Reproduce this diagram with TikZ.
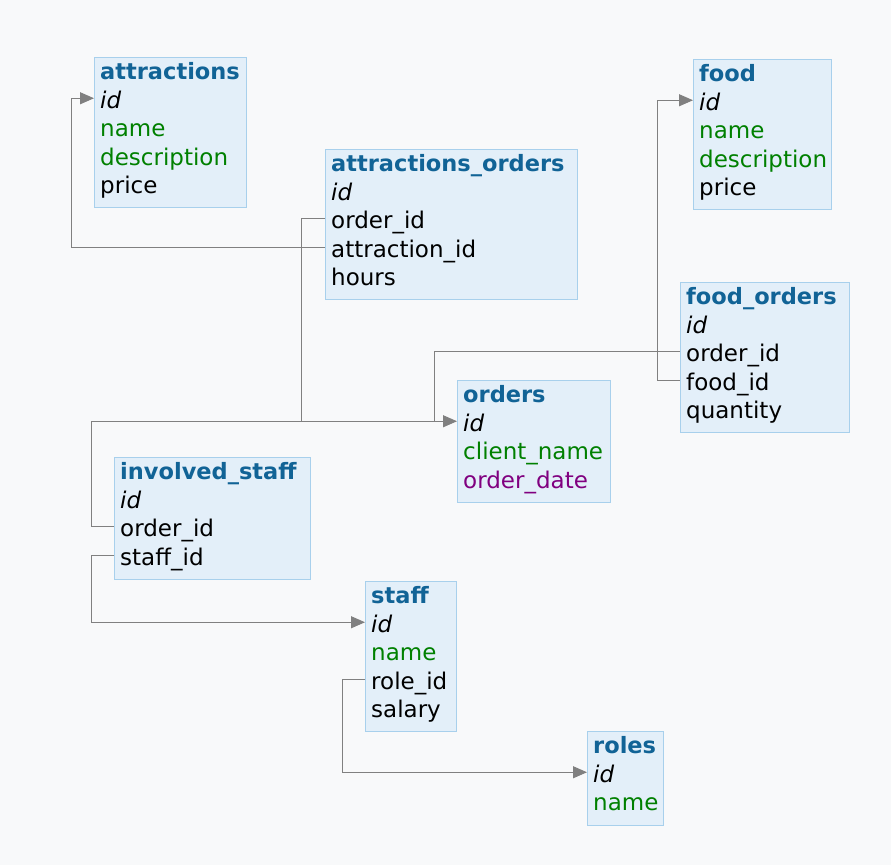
\documentclass[tikz,border=0pt]{standalone}
\usepackage{fontspec}
\setmainfont{DejaVu Sans}
\usetikzlibrary{arrows.meta}
\definecolor{bgc}{RGB}{248,249,250}
\definecolor{boxfill}{RGB}{227,239,249}
\definecolor{boxline}{RGB}{168,208,236}
\definecolor{titlec}{RGB}{17,99,150}
\definecolor{greenc}{RGB}{0,128,0}
\definecolor{purplec}{RGB}{128,0,128}
\definecolor{linec}{RGB}{128,128,128}
\newcommand\settbl[2]{\def\tblx{#1}\def\tbly{#2}}
\newcommand\fieldrow[4]{\node[#3] (#1) at ({\tblx+6},{\tbly+22.8+28.45*#2}) {#4};}
\tikzset{
  tbox/.style={draw=boxline, fill=boxfill, line width=0.8pt, rectangle, anchor=north west, inner sep=0pt},
  txt/.style={anchor=base west, inner sep=0pt, text height=22.5pt, text depth=2.5pt, font=\fontsize{23}{28}\selectfont},
  ttl/.style={txt, text=titlec, font=\fontsize{22.5}{28}\selectfont\bfseries},
  pk/.style={txt, font=\fontsize{23}{28}\selectfont\itshape},
  plain/.style={txt, text=black},
  grn/.style={txt, text=greenc},
  prp/.style={txt, text=purplec},
  fk/.style={draw=linec, line width=1pt},
  fkarrow/.style={fk, -{Triangle[length=14pt,width=12pt]}, linec}
}
\begin{document}
\begin{tikzpicture}[x=1pt,y=-1pt]
\fill[bgc] (0,0) rectangle (891,865);
\useasboundingbox (0,0) rectangle (891,865);
% attractions
\settbl{94}{57}
\node[tbox, minimum width=152pt, minimum height=150.4pt] (attr) at (\tblx,\tbly) {};
\fieldrow{attr-0}{0}{ttl}{attractions}
\fieldrow{attr-1}{1}{pk}{id}
\fieldrow{attr-2}{2}{grn}{name}
\fieldrow{attr-3}{3}{grn}{description}
\fieldrow{attr-4}{4}{plain}{price}
% attractions_orders
\settbl{325}{149}
\node[tbox, minimum width=252pt, minimum height=150.4pt] (ao) at (\tblx,\tbly) {};
\fieldrow{ao-0}{0}{ttl}{attractions\_orders}
\fieldrow{ao-1}{1}{pk}{id}
\fieldrow{ao-2}{2}{plain}{order\_id}
\fieldrow{ao-3}{3}{plain}{attraction\_id}
\fieldrow{ao-4}{4}{plain}{hours}
% food
\settbl{693}{59}
\node[tbox, minimum width=138pt, minimum height=150.4pt] (food) at (\tblx,\tbly) {};
\fieldrow{food-0}{0}{ttl}{food}
\fieldrow{food-1}{1}{pk}{id}
\fieldrow{food-2}{2}{grn}{name}
\fieldrow{food-3}{3}{grn}{description}
\fieldrow{food-4}{4}{plain}{price}
% food_orders
\settbl{680}{282}
\node[tbox, minimum width=169pt, minimum height=150.4pt] (fo) at (\tblx,\tbly) {};
\fieldrow{fo-0}{0}{ttl}{food\_orders}
\fieldrow{fo-1}{1}{pk}{id}
\fieldrow{fo-2}{2}{plain}{order\_id}
\fieldrow{fo-3}{3}{plain}{food\_id}
\fieldrow{fo-4}{4}{plain}{quantity}
% orders
\settbl{457}{380}
\node[tbox, minimum width=153pt, minimum height=121.95pt] (ord) at (\tblx,\tbly) {};
\fieldrow{ord-0}{0}{ttl}{orders}
\fieldrow{ord-1}{1}{pk}{id}
\fieldrow{ord-2}{2}{grn}{client\_name}
\fieldrow{ord-3}{3}{prp}{order\_date}
% involved_staff
\settbl{114}{457}
\node[tbox, minimum width=196pt, minimum height=121.95pt] (is) at (\tblx,\tbly) {};
\fieldrow{is-0}{0}{ttl}{involved\_staff}
\fieldrow{is-1}{1}{pk}{id}
\fieldrow{is-2}{2}{plain}{order\_id}
\fieldrow{is-3}{3}{plain}{staff\_id}
% staff
\settbl{365}{581}
\node[tbox, minimum width=91pt, minimum height=150.4pt] (staff) at (\tblx,\tbly) {};
\fieldrow{staff-0}{0}{ttl}{staff}
\fieldrow{staff-1}{1}{pk}{id}
\fieldrow{staff-2}{2}{grn}{name}
\fieldrow{staff-3}{3}{plain}{role\_id}
\fieldrow{staff-4}{4}{plain}{salary}
% roles
\settbl{587}{731}
\node[tbox, minimum width=76pt, minimum height=93.5pt] (roles) at (\tblx,\tbly) {};
\fieldrow{roles-0}{0}{ttl}{roles}
\fieldrow{roles-1}{1}{pk}{id}
\fieldrow{roles-2}{2}{grn}{name}
% connectors
\draw[fk] (ao.west |- ao-3) -| ([xshift=-23pt]attr.west |- attr-1);
\draw[fkarrow] ([xshift=-23pt]attr.west |- attr-1) -- (attr.west |- attr-1);
\draw[fk] (ao.west |- ao-2) -| ([xshift=-24pt]ao.west |- ord-1);
\draw[fk] ([xshift=-24pt]ao.west |- ord-1) -- ([xshift=-23pt]ord.west |- ord-1);
\draw[fk] (fo.west |- fo-2) -| ([xshift=-23pt]ord.west |- ord-1);
\draw[fkarrow] ([xshift=-23pt]ord.west |- ord-1) -- (ord.west |- ord-1);
\draw[fk] (fo.west |- fo-3) -| ([xshift=-23pt]fo.west |- food-1);
\draw[fkarrow] ([xshift=-23pt]fo.west |- food-1) -- (food.west |- food-1);
\draw[fk] (is.west |- is-2) -| ([xshift=-23pt]is.west |- ord-1);
\draw[fk] ([xshift=-23pt]is.west |- ord-1) -- ([xshift=-24pt]ao.west |- ord-1);
\draw[fk] (is.west |- is-3) -| ([xshift=-23pt]is.west |- staff-1);
\draw[fkarrow] ([xshift=-23pt]is.west |- staff-1) -- (staff.west |- staff-1);
\draw[fk] (staff.west |- staff-3) -| ([xshift=-23pt]staff.west |- roles-1);
\draw[fkarrow] ([xshift=-23pt]staff.west |- roles-1) -- (roles.west |- roles-1);
\end{tikzpicture}
\end{document}
